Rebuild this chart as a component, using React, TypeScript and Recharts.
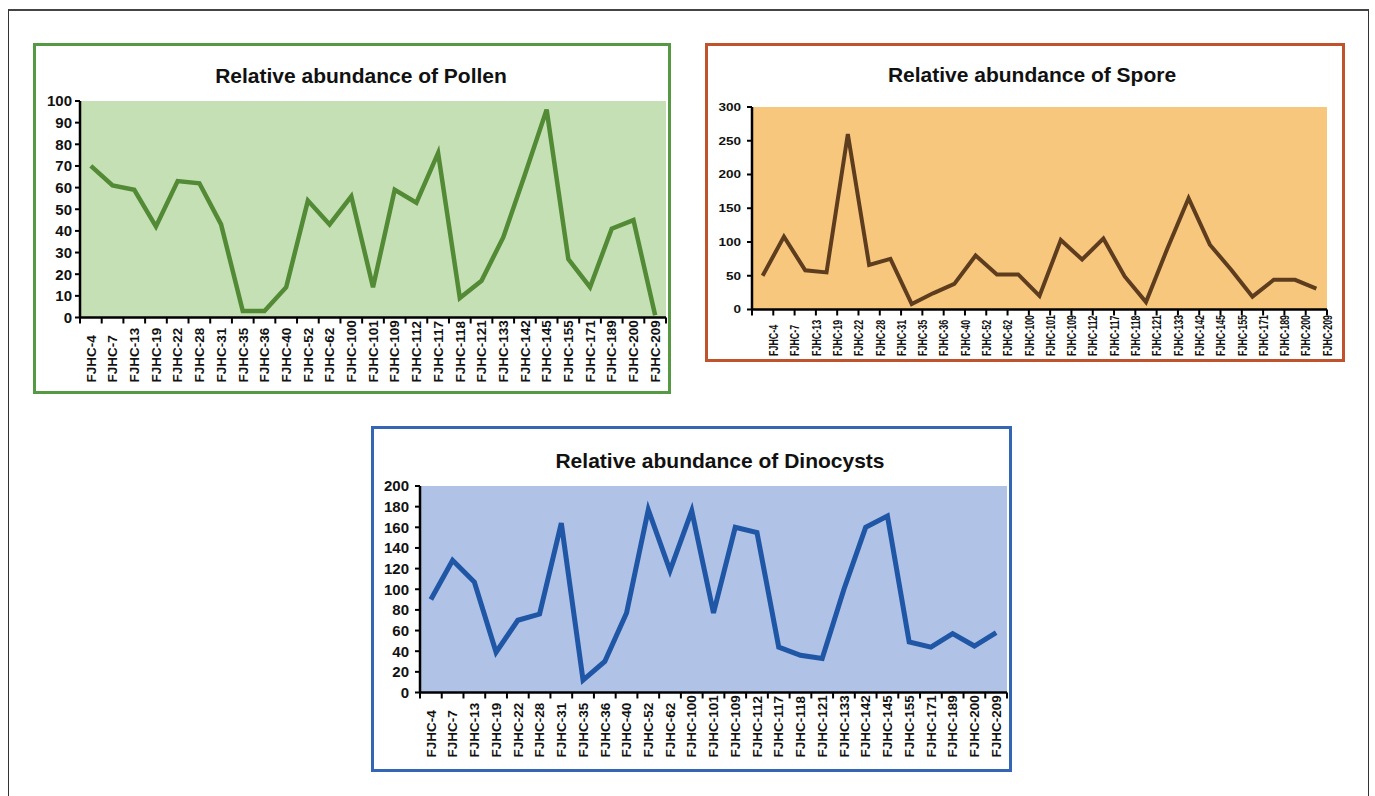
import React from 'react';
import { LineChart, Line, XAxis, YAxis, CartesianGrid } from 'recharts';

const FONT = '"Liberation Sans", Arial, Helvetica, sans-serif';

const categories = [
  'FJHC-4', 'FJHC-7', 'FJHC-13', 'FJHC-19', 'FJHC-22', 'FJHC-28', 'FJHC-31',
  'FJHC-35', 'FJHC-36', 'FJHC-40', 'FJHC-52', 'FJHC-62', 'FJHC-100', 'FJHC-101',
  'FJHC-109', 'FJHC-112', 'FJHC-117', 'FJHC-118', 'FJHC-121', 'FJHC-133',
  'FJHC-142', 'FJHC-145', 'FJHC-155', 'FJHC-171', 'FJHC-189', 'FJHC-200', 'FJHC-209',
];

const pollenValues = [70, 61, 59, 42, 63, 62, 43, 3, 3, 14, 54, 43, 56, 14, 59, 53, 76, 9, 17, 37, 66, 96, 27, 14, 41, 45, 1];
const sporeValues = [50, 108, 58, 55, 260, 66, 75, 8, 24, 38, 80, 52, 52, 20, 103, 74, 105, 49, 11, 90, 165, 96, 59, 19, 44, 44, 31];
const dinocystValues = [90, 128, 107, 39, 70, 76, 164, 12, 30, 77, 177, 118, 176, 77, 160, 155, 44, 36, 33, 100, 160, 171, 49, 44, 57, 45, 58];

const pollenTicks = [0, 10, 20, 30, 40, 50, 60, 70, 80, 90, 100];
const sporeTicks = [0, 50, 100, 150, 200, 250, 300];
const dinocystTicks = [0, 20, 40, 60, 80, 100, 120, 140, 160, 180, 200];

type Box = { left: number; top: number; width: number; height: number };
type Plot = { left: number; top: number; right: number; bottom: number };

interface PanelProps {
  panel: Box;
  borderColor: string;
  title: string;
  titleCx: number;
  titleCy: number;
  plot: Plot;
  values: number[];
  ticks: number[];
  bg: string;
  lineColor: string;
  lineWidth: number;
  yFont: number;
  yMargin: number;
  ySy: number;
  xFont: number;
  xSx: number;
  xLabelStart: number;
  xLabelShift: number; // fraction of band
}

const XTick = (props: any) => {
  const { x, y, payload, index, bw, n, shift, start, font, sx } = props;
  const left = x - bw / 2;
  const lx = x + shift * bw;
  return (
    <g>
      <line x1={left} y1={y} x2={left} y2={y + 6} stroke="#000" strokeWidth={2} />
      {index === n - 1 && (
        <line x1={x + bw / 2} y1={y} x2={x + bw / 2} y2={y + 6} stroke="#000" strokeWidth={2} />
      )}
      <text
        transform={`translate(${lx},${y + start}) rotate(-90) scale(${sx},1)`}
        x={0}
        y={0}
        dy="0.35em"
        textAnchor="start"
        fill="#111"
        fontSize={font}
        fontWeight="bold"
        fontFamily={FONT}
      >
        {payload.value}
      </text>
    </g>
  );
};

const YTick = (props: any) => {
  const { x, y, payload, font, sy } = props;
  return (
    <text
      transform={`translate(${x},${y}) scale(1,${sy})`}
      x={0}
      y={0}
      dy="0.36em"
      textAnchor="end"
      fill="#111"
      fontSize={font}
      fontWeight="bold"
      fontFamily={FONT}
    >
      {payload.value}
    </text>
  );
};

const ChartPanel = (p: PanelProps) => {
  const yAxisWidth = 36;
  const xAxisHeight = 40;
  const plotW = p.plot.right - p.plot.left;
  const bw = plotW / categories.length;
  const margin = {
    left: p.plot.left - p.panel.left - yAxisWidth,
    top: p.plot.top - p.panel.top,
    right: p.panel.left + p.panel.width - p.plot.right,
    bottom: p.panel.top + p.panel.height - p.plot.bottom - xAxisHeight,
  };
  const data = categories.map((c, i) => ({ name: c, value: p.values[i] }));
  const max = p.ticks[p.ticks.length - 1];
  return (
    <>
      <div
        style={{
          position: 'absolute',
          left: p.panel.left,
          top: p.panel.top,
          width: p.panel.width,
          height: p.panel.height,
          background: '#fff',
        }}
      >
        <LineChart width={p.panel.width} height={p.panel.height} data={data} margin={margin}>
          <CartesianGrid fill={p.bg} stroke="none" horizontal={false} vertical={false} />
          <XAxis
            dataKey="name"
            type="category"
            scale="point"
            padding={{ left: bw / 2, right: bw / 2 }}
            interval={0}
            height={xAxisHeight}
            tickSize={0}
            tickMargin={0}
            tickLine={false}
            axisLine={{ stroke: '#000', strokeWidth: 2.5 }}
            tick={
              <XTick
                bw={bw}
                n={categories.length}
                shift={p.xLabelShift}
                start={p.xLabelStart}
                font={p.xFont}
                sx={p.xSx}
              />
            }
          />
          <YAxis
            type="number"
            domain={[0, max]}
            ticks={p.ticks}
            interval={0}
            width={yAxisWidth}
            tickSize={5}
            tickMargin={p.yMargin}
            axisLine={{ stroke: '#000', strokeWidth: 2.5 }}
            tickLine={{ stroke: '#000', strokeWidth: 2 }}
            tick={<YTick font={p.yFont} sy={p.ySy} />}
          />
          <Line
            type="linear"
            dataKey="value"
            stroke={p.lineColor}
            strokeWidth={p.lineWidth}
            dot={false}
            activeDot={false}
            isAnimationActive={false}
          />
        </LineChart>
      </div>
      <div
        style={{
          position: 'absolute',
          left: p.panel.left,
          top: p.panel.top,
          width: p.panel.width,
          height: p.panel.height,
          boxSizing: 'border-box',
          border: `3px solid ${p.borderColor}`,
          pointerEvents: 'none',
        }}
      />
      <div
        style={{
          position: 'absolute',
          left: p.titleCx - 300,
          width: 600,
          top: p.titleCy - 11.5,
          lineHeight: '24px',
          fontSize: 21,
          fontWeight: 'bold',
          fontFamily: FONT,
          color: '#111',
          textAlign: 'center',
          whiteSpace: 'nowrap',
        }}
      >
        {p.title}
      </div>
    </>
  );
};

export default function App() {
  return (
    <div style={{ position: 'absolute', left: 0, top: 0, width: 1375, height: 796, overflow: 'hidden', background: '#fff' }}>
      <div
        style={{
          position: 'absolute',
          left: 8,
          top: 9,
          width: 1361,
          height: 820,
          boxSizing: 'border-box',
          border: '1px solid #333',
          borderTop: '2px solid #444',
        }}
      />
      <ChartPanel
        panel={{ left: 33, top: 43, width: 638, height: 351 }}
        borderColor="#559a42"
        title="Relative abundance of Pollen"
        titleCx={361}
        titleCy={75}
        plot={{ left: 80, top: 101, right: 666, bottom: 317.5 }}
        values={pollenValues}
        ticks={pollenTicks}
        bg="#c5e0b4"
        lineColor="#538a36"
        lineWidth={4.5}
        yFont={15}
        yMargin={3}
        ySy={1}
        xFont={13.5}
        xSx={1}
        xLabelStart={65}
        xLabelShift={0}
      />
      <ChartPanel
        panel={{ left: 705, top: 43, width: 640, height: 319 }}
        borderColor="#c0532b"
        title="Relative abundance of Spore"
        titleCx={1032}
        titleCy={74}
        plot={{ left: 752, top: 107, right: 1327, bottom: 309.5 }}
        values={sporeValues}
        ticks={sporeTicks}
        bg="#f8c77e"
        lineColor="#5e3d1f"
        lineWidth={4}
        yFont={13.5}
        yMargin={6}
        ySy={0.8}
        xFont={13.5}
        xSx={0.66}
        xLabelStart={46.5}
        xLabelShift={0.5}
      />
      <ChartPanel
        panel={{ left: 371, top: 426, width: 641, height: 346 }}
        borderColor="#3565b5"
        title="Relative abundance of Dinocysts"
        titleCx={720}
        titleCy={460.5}
        plot={{ left: 420, top: 486, right: 1007, bottom: 692.5 }}
        values={dinocystValues}
        ticks={dinocystTicks}
        bg="#b0c2e5"
        lineColor="#1f56a6"
        lineWidth={5}
        yFont={15}
        yMargin={6}
        ySy={1}
        xFont={13.5}
        xSx={1}
        xLabelStart={65}
        xLabelShift={0}
      />
    </div>
  );
}
